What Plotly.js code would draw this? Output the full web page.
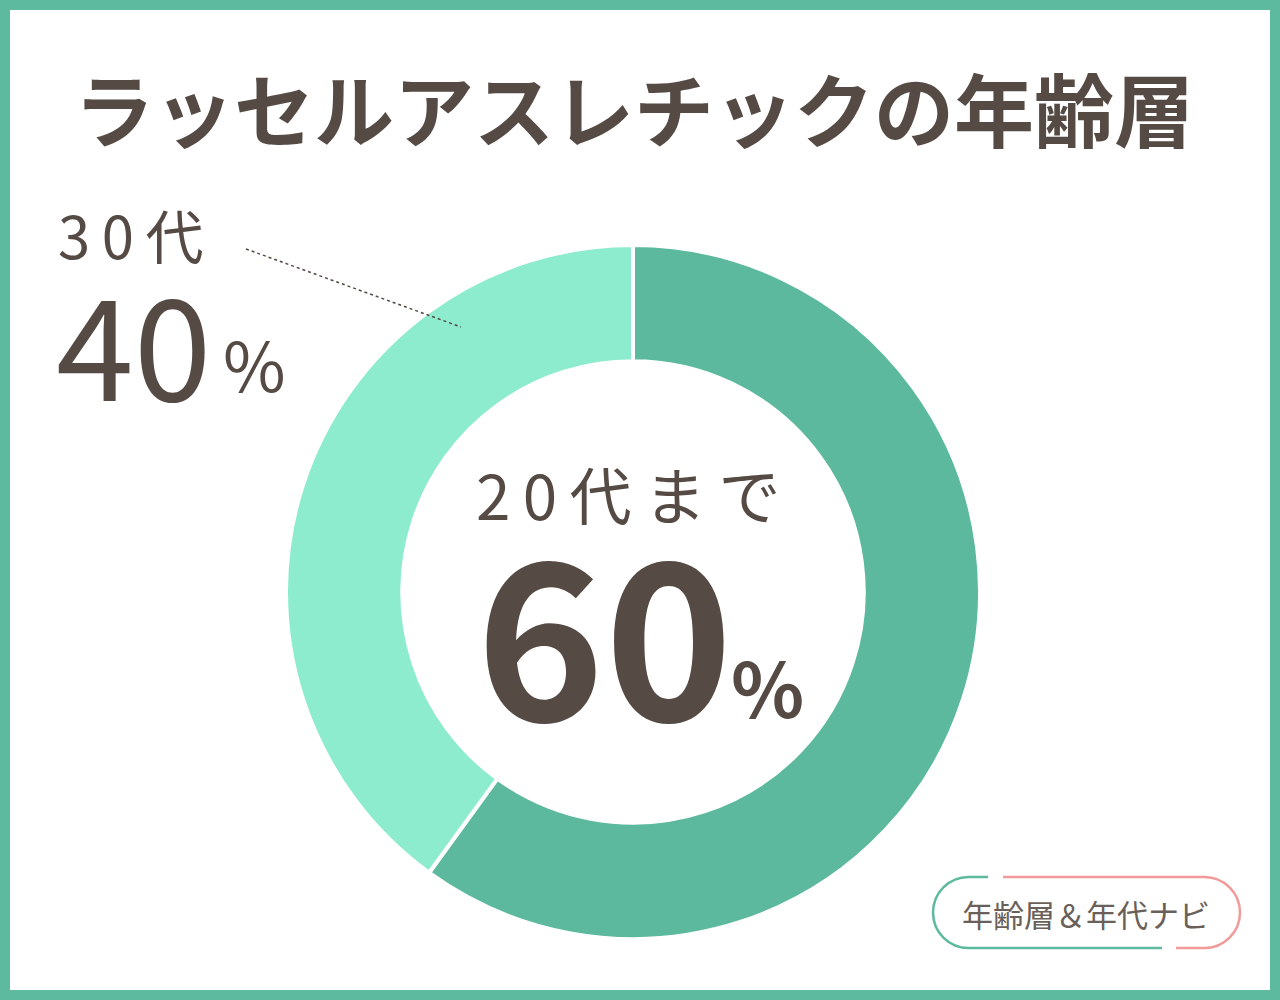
<!DOCTYPE html>
<html>
<head>
<meta charset="utf-8">
<script src="https://cdn.plot.ly/plotly-3.0.1.min.js"></script>
<style>
html,body{margin:0;padding:0;background:#fff;}
#chart{width:1280px;height:1000px;}
</style>
</head>
<body>
<div id="chart"></div>
<script>
const categories = ["20代まで", "30代"];
const values = [60, 40];
const colors = ["#5cb99e", "#8eecce"];
const titleText = "ラッセルアスレチックの年齢層";
const badgeText = "年齢層＆年代ナビ";

const W = 1280, H = 1000;
const px = x => x / W;
const py = y => 1 - y / H;
const FONT = '"Noto Sans CJK JP", "Noto Sans", sans-serif';
const TXT = "#554a44";
const spaced = s => Array.from(s).join("\u2009");

// donut geometry (pixels)
const cx = 633, cy = 592, R = 347;

const trace = {
  type: "pie",
  labels: categories,
  values: values,
  sort: false,
  direction: "clockwise",
  rotation: 0,
  hole: 0.665,
  textinfo: "none",
  hoverinfo: "label+percent",
  marker: { colors: colors, line: { color: "#ffffff", width: 4 } },
  domain: { x: [px(cx - R), px(cx + R)], y: [py(cy + R), py(cy - R)] },
  showlegend: false
};

function arcPath() {
  const top = 877, bot = 948, left = 933, right = 1240;
  const r = (bot - top) / 2, mid = (top + bot) / 2;
  const lc = left + r, rc = right - r, k = 0.5523 * r;
  const P = (x, y) => px(x) + "," + py(y);
  const green = "M" + P(988, top) + " L" + P(lc, top) +
    " C" + P(lc - k, top) + " " + P(left, mid - k) + " " + P(left, mid) +
    " C" + P(left, mid + k) + " " + P(lc - k, bot) + " " + P(lc, bot) +
    " L" + P(1162, bot);
  const pink = "M" + P(1003, top) + " L" + P(rc, top) +
    " C" + P(rc + k, top) + " " + P(right, mid - k) + " " + P(right, mid) +
    " C" + P(right, mid + k) + " " + P(rc + k, bot) + " " + P(rc, bot) +
    " L" + P(1176, bot);
  return [green, pink];
}
const [gPath, pPath] = arcPath();

const pct = v => String(v);

const layout = {
  width: W, height: H,
  margin: { l: 0, r: 0, t: 0, b: 0 },
  paper_bgcolor: "#ffffff",
  showlegend: false,
  shapes: [
    { type: "rect", xref: "paper", yref: "paper", x0: 0, x1: 1, y0: 0, y1: 1,
      line: { color: "#5dba9e", width: 20 }, fillcolor: "rgba(0,0,0,0)" },
    { type: "line", xref: "paper", yref: "paper", x0: px(246), y0: py(249), x1: px(461), y1: py(327),
      line: { color: TXT, width: 1.5, dash: "dot" } },
    { type: "path", xref: "paper", yref: "paper", path: gPath, line: { color: "#5dba9e", width: 2.5 } },
    { type: "path", xref: "paper", yref: "paper", path: pPath, line: { color: "#f29a99", width: 2.5 } }
  ],
  annotations: [
    { text: "<b>" + titleText + "</b>", x: px(634), y: py(106), xref: "paper", yref: "paper",
      showarrow: false, xanchor: "center", yanchor: "middle",
      font: { family: FONT, size: 80, color: TXT } },
    // 30代 label
    { text: spaced(categories[1]), x: px(56), y: py(234), xref: "paper", yref: "paper",
      showarrow: false, xanchor: "left", yanchor: "middle",
      font: { family: FONT, size: 58, color: TXT } },
    { text: pct(values[1]), x: px(54), y: py(340), xref: "paper", yref: "paper",
      showarrow: false, xanchor: "left", yanchor: "middle",
      font: { family: FONT, size: 140, color: TXT } },
    { text: "%", x: px(221), y: py(362), xref: "paper", yref: "paper",
      showarrow: false, xanchor: "left", yanchor: "middle",
      font: { family: FONT, size: 68, color: TXT } },
    // center
    { text: spaced(categories[0]), x: px(628), y: py(493), xref: "paper", yref: "paper",
      showarrow: false, xanchor: "center", yanchor: "middle",
      font: { family: FONT, size: 62, color: TXT } },
    { text: "<b>" + pct(values[0]) + "</b>", x: px(604), y: py(626), xref: "paper", yref: "paper",
      showarrow: false, xanchor: "center", yanchor: "middle",
      font: { family: FONT, size: 218, color: TXT } },
    { text: "<b>%</b>", x: px(767), y: py(685), xref: "paper", yref: "paper",
      showarrow: false, xanchor: "center", yanchor: "middle",
      font: { family: FONT, size: 76, color: TXT } },
    // badge
    { text: badgeText, x: px(1086), y: py(913), xref: "paper", yref: "paper",
      showarrow: false, xanchor: "center", yanchor: "middle",
      font: { family: FONT, size: 31, color: "#6b5f59" } }
  ]
};

Plotly.newPlot("chart", [trace], layout, { displayModeBar: false, staticPlot: true });
</script>
</body>
</html>
